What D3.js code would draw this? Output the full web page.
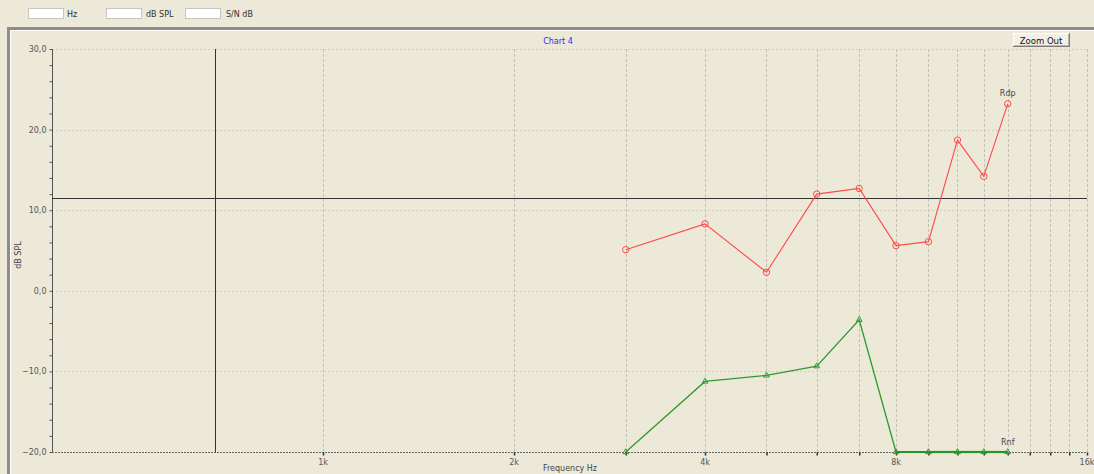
<!DOCTYPE html>
<html><head><meta charset="utf-8">
<script src="https://cdn.jsdelivr.net/npm/d3@7"></script>
<style>
html,body{margin:0;padding:0;background:#ECE9D8;}
svg{display:block;}
text{font-family:"DejaVu Sans",Verdana,sans-serif;}
</style></head>
<body>
<svg id="c" width="1094" height="474"></svg>
<script>
const freqs = [3000, 4000, 5000, 6000, 7000, 8000, 9000, 10000, 11000, 12000];
const rdp = [5.1, 8.3, 2.3, 12.0, 12.7, 5.6, 6.1, 18.7, 14.2, 23.2];
const rnf = [-20, -11.25, -10.5, -9.35, -3.6, -20, -20, -20, -20, -20];
const xGrid = [1000,2000,3000,4000,5000,6000,7000,8000,9000,10000,11000,12000,13000,14000,15000,16000];
const xLabels = [[1000,"1k"],[2000,"2k"],[4000,"4k"],[8000,"8k"],[16000,"16k"]];
const yTicks = [-20,-10,0,10,20,30];
const yMinor = d3.range(-20, 30.01, 2);
const cursorFreq = 676, cursorDb = 11.5;

const svg = d3.select("#c");
const W = 1094, H = 474;
svg.append("rect").attr("width",W).attr("height",H).attr("fill","#ECE9D8");

// top toolbar
const boxes = [[28,"Hz",67],[106,"dB SPL",146],[185,"S/N dB",226]];
boxes.forEach(([bx,lab,lx])=>{
  svg.append("rect").attr("x",bx+0.5).attr("y",8.5).attr("width",35).attr("height",10)
    .attr("fill","#fff").attr("stroke","#c8c6bc").attr("stroke-width",1);
  svg.append("text").attr("x",lx).attr("y",16.5).attr("font-size",8).attr("fill","#333").text(lab);
});

// panel frame
svg.append("rect").attr("x",7).attr("y",27).attr("width",W-7).attr("height",3).attr("fill","#8e8c84");
svg.append("rect").attr("x",7).attr("y",27).attr("width",3).attr("height",H-27).attr("fill","#8e8c84");
svg.append("rect").attr("x",10).attr("y",30).attr("width",W-10).attr("height",1).attr("fill","#ffffff");
svg.append("rect").attr("x",10).attr("y",30).attr("width",1).attr("height",H-30).attr("fill","#ffffff");

// title
svg.append("text").attr("x",558).attr("y",44).attr("text-anchor","middle").attr("font-size",8)
  .attr("fill","#2b2bff").text("Chart 4");

// Zoom Out button
const bt = svg.append("g");
bt.append("rect").attr("x",1013).attr("y",33).attr("width",57).attr("height",14).attr("fill","#7f7d76");
bt.append("rect").attr("x",1013).attr("y",33).attr("width",56).attr("height",13).attr("fill","#ffffff");
bt.append("rect").attr("x",1014).attr("y",34).attr("width",55).attr("height",12).attr("fill","#b9b6ab");
bt.append("rect").attr("x",1014).attr("y",34).attr("width",54).attr("height",11).attr("fill","#f1efe6");
bt.append("text").attr("x",1041).attr("y",43.5).attr("text-anchor","middle").attr("font-size",8.5)
  .attr("fill","#111").text("Zoom Out");

const L = 52, R = 1087, T = 49, B = 452;
const x = d3.scaleLog().domain([374, 16000]).range([L, R]);
const y = d3.scaleLinear().domain([-20, 30]).range([B, T]);

// grid
const g = svg.append("g");
g.selectAll(".vg").data(xGrid).join("line")
  .attr("x1",d=>Math.round(x(d))+0.5).attr("x2",d=>Math.round(x(d))+0.5)
  .attr("y1",T).attr("y2",B)
  .attr("stroke","#c2bfb2").attr("stroke-dasharray","3,2").attr("stroke-width",1);
g.selectAll(".hg").data(yTicks.filter(d=>d>-20)).join("line")
  .attr("x1",L).attr("x2",R)
  .attr("y1",d=>Math.round(y(d))+0.5).attr("y2",d=>Math.round(y(d))+0.5)
  .attr("stroke","#d2cfc2").attr("stroke-dasharray","2,2").attr("stroke-width",1);

// y axis
const yAx = svg.append("g").attr("transform",`translate(${L+0.5},0)`);
yAx.call(d3.axisLeft(y).tickValues(yMinor).tickSize(3).tickFormat(""));
yAx.selectAll("line").attr("stroke","#555");
yAx.select(".domain").attr("stroke","#555").attr("d",`M0,${T}V${B}`);
yAx.selectAll(".lab").data(yTicks).join("text")
  .attr("x",-6).attr("y",d=>y(d)+3).attr("text-anchor","end").attr("font-size",8)
  .attr("fill","#555").text(d=>d3.format(".1f")(d).replace(".",","));

// x axis
const xAx = svg.append("g").attr("transform",`translate(0,${B+0.5})`);
xAx.call(d3.axisBottom(x).tickValues(xGrid).tickSize(3).tickFormat(""));
xAx.selectAll("line").attr("stroke","#333").attr("stroke-width",1.5);
xAx.select(".domain").attr("stroke","#666").attr("stroke-dasharray","2,1").attr("d",`M${L},0H${R}`);
xAx.selectAll(".lab").data(xLabels).join("text")
  .attr("x",d=>x(d[0])).attr("y",12).attr("text-anchor","middle").attr("font-size",8)
  .attr("fill","#555").text(d=>d[1]);

// axis titles
svg.append("text").attr("x",570).attr("y",471).attr("text-anchor","middle").attr("font-size",8)
  .attr("fill","#444").text("Frequency Hz");
svg.append("text").attr("transform",`translate(21,255) rotate(-90)`).attr("text-anchor","middle")
  .attr("font-size",8).attr("fill","#444").text("dB SPL");

// cursor crosshair
svg.append("line").attr("x1",L).attr("x2",R).attr("y1",Math.round(y(cursorDb))+0.5).attr("y2",Math.round(y(cursorDb))+0.5)
  .attr("stroke","#333").attr("stroke-width",1);
svg.append("line").attr("x1",Math.round(x(cursorFreq))+0.5).attr("x2",Math.round(x(cursorFreq))+0.5).attr("y1",T).attr("y2",B)
  .attr("stroke","#333").attr("stroke-width",1);

// series
const line = d3.line().x(d=>x(d[0])).y(d=>y(d[1]));
const dR = freqs.map((f,i)=>[f,rdp[i]]);
const dN = freqs.map((f,i)=>[f,rnf[i]]);

svg.append("path").attr("d",line(dR)).attr("fill","none").attr("stroke","#ff4a4a").attr("stroke-width",1.1);
svg.selectAll(".rc").data(dR).join("circle")
  .attr("cx",d=>x(d[0])).attr("cy",d=>y(d[1])).attr("r",3.2)
  .attr("fill","none").attr("stroke","#ff4a4a").attr("stroke-width",1);

svg.append("path").attr("d",line(dN)).attr("fill","none").attr("stroke","#2f9a2f").attr("stroke-width",1.3);
// flat floor segments drawn heavier, as in the reference
const floorSegs = dN.slice(1).map((d,i)=>[dN[i],d]).filter(s=>s[0][1]===-20 && s[1][1]===-20);
svg.selectAll(".fs").data(floorSegs).join("path")
  .attr("d",s=>line(s)).attr("fill","none").attr("stroke","#2a922a").attr("stroke-width",2.2);
const tri = d3.symbol().type(d3.symbolTriangle).size(14);
svg.selectAll(".nt").data(dN).join("path")
  .attr("transform",d=>`translate(${x(d[0])},${y(d[1])})`).attr("d",tri)
  .attr("fill","none").attr("stroke","#2f9a2f").attr("stroke-width",1);

// series labels
svg.append("text").attr("x",x(freqs[freqs.length-1])).attr("y",y(rdp[rdp.length-1])-8)
  .attr("text-anchor","middle").attr("font-size",8).attr("fill","#444").text("Rdp");
svg.append("text").attr("x",x(freqs[freqs.length-1])).attr("y",y(rnf[rnf.length-1])-7)
  .attr("text-anchor","middle").attr("font-size",8).attr("fill","#444").text("Rnf");
</script>
</body></html>
